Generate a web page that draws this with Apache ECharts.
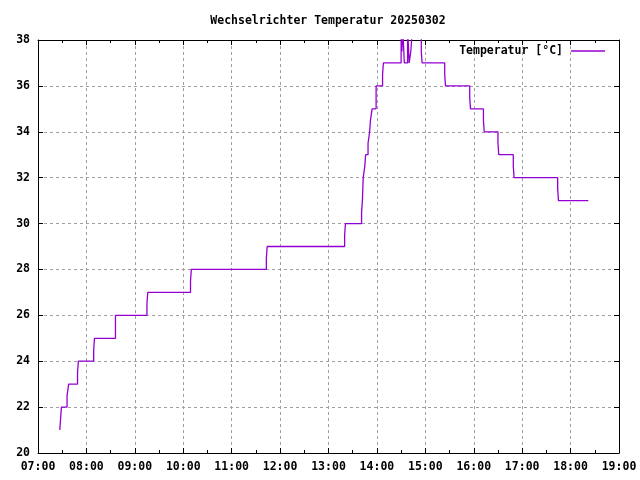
<!DOCTYPE html>
<html>
<head>
<meta charset="utf-8">
<script src="https://cdn.jsdelivr.net/npm/echarts@6/dist/echarts.min.js"></script>
<style>html,body{margin:0;padding:0;background:#fff}#c{width:640px;height:480px}</style>
</head>
<body>
<div id="c"></div>
<script>
const titleText = 'Wechselrichter Temperatur 20250302';
const seriesName = 'Temperatur [°C]';
const times = ['07:27','07:28','07:29','07:36','07:38','07:49','07:50','08:09','08:10','08:36',
  '09:15','09:16','10:09','10:10','11:43','11:44','13:20','13:21','13:41','13:42',
  '13:43','13:45','13:46','13:49','13:51','13:52','13:54','13:59','14:07','14:08',
  '14:30','14:31','14:32','14:34','14:38','14:40','14:42','14:44','14:55','14:56',
  '15:24','15:25','15:55','15:56','16:12','16:13','16:30','16:31','16:49','16:50',
  '17:44','17:45','18:22'];
const temps = [21,21.5,22,22.5,23,23.5,24,24.5,25,26,
  26.5,27,27.5,28,28.5,29,29.5,30,30.5,31,
  32,32.5,33,33.5,34,34.5,35,36,36.5,37,
  38.5,37.5,38.5,37,38.5,37,37.5,38.5,37.5,37,
  36.5,36,35.5,35,34.5,34,33.5,33,32.5,32,
  31.5,31,31];
const xStartHour = 7;
const xMinutesMax = 720;
const yMin = 20, yMax = 38, yStep = 2;

function toMin(s){const p=s.split(':');return (+p[0]-xStartHour)*60+(+p[1]);}
function fmt(v){const h=xStartHour+Math.floor(v/60);const m=Math.round(v%60);return String(h).padStart(2,'0')+':'+String(m).padStart(2,'0');}
const data = times.map((t,i)=>[toMin(t),temps[i]]);

const FONT = 'DejaVu Sans Mono';
const lbl = {fontFamily:FONT,fontWeight:'bold',fontSize:11.5,color:'#000'};
const grid = {color:'#a0a0a0',width:1,type:[3,3]};
const COLOR = '#9400d3';

const chart = echarts.init(document.getElementById('c'),null,{renderer:'canvas'});
chart.setOption({
  animation:false,
  backgroundColor:'#fff',
  title:{text:titleText,left:328,top:15,textAlign:'center',padding:0,
    textStyle:{fontFamily:FONT,fontWeight:'bold',fontSize:11.5,color:'#000'}},
  legend:{right:35,top:45,padding:0,align:'right',itemWidth:34,itemHeight:1.5,
    textStyle:Object.assign({},lbl,{padding:[0,3,0,0]}),
    data:[{name:seriesName,icon:'rect',itemStyle:{color:COLOR}}]},
  grid:{left:38,right:21,top:40,bottom:27,containLabel:false},
  xAxis:[{type:'value',min:0,max:xMinutesMax,interval:60,
      axisLine:{show:true,onZero:false,lineStyle:{color:'#000',width:1}},
      axisTick:{show:true,inside:true,length:5,lineStyle:{color:'#000'}},
      minorTick:{show:true,splitNumber:2,length:3,lineStyle:{color:'#000'}},
      axisLabel:Object.assign({},lbl,{margin:8,formatter:fmt,showMinLabel:true,showMaxLabel:true}),
      splitLine:{show:true,lineStyle:grid}},
    {type:'value',position:'top',min:0,max:xMinutesMax,interval:60,
      axisLine:{show:true,onZero:false,lineStyle:{color:'#000',width:1}},
      axisTick:{show:true,inside:true,length:5,lineStyle:{color:'#000'}},
      minorTick:{show:true,splitNumber:2,length:3,lineStyle:{color:'#000'}},
      axisLabel:{show:false},splitLine:{show:false}}],
  yAxis:[{type:'value',min:yMin,max:yMax,interval:yStep,
      axisLine:{show:true,onZero:false,lineStyle:{color:'#000',width:1}},
      axisTick:{show:true,inside:true,length:5,lineStyle:{color:'#000'}},
      axisLabel:Object.assign({},lbl,{margin:8}),
      splitLine:{show:true,lineStyle:grid}},
    {type:'value',position:'right',min:yMin,max:yMax,interval:yStep,
      axisLine:{show:true,onZero:false,lineStyle:{color:'#000',width:1}},
      axisTick:{show:true,inside:true,length:5,lineStyle:{color:'#000'}},
      axisLabel:{show:false},splitLine:{show:false}}],
  series:[{name:seriesName,type:'line',step:'end',symbol:'none',showSymbol:false,clip:true,
    xAxisIndex:0,yAxisIndex:0,
    lineStyle:{color:COLOR,width:1.3},itemStyle:{color:COLOR},
    data:data}]
});
</script>
</body>
</html>
